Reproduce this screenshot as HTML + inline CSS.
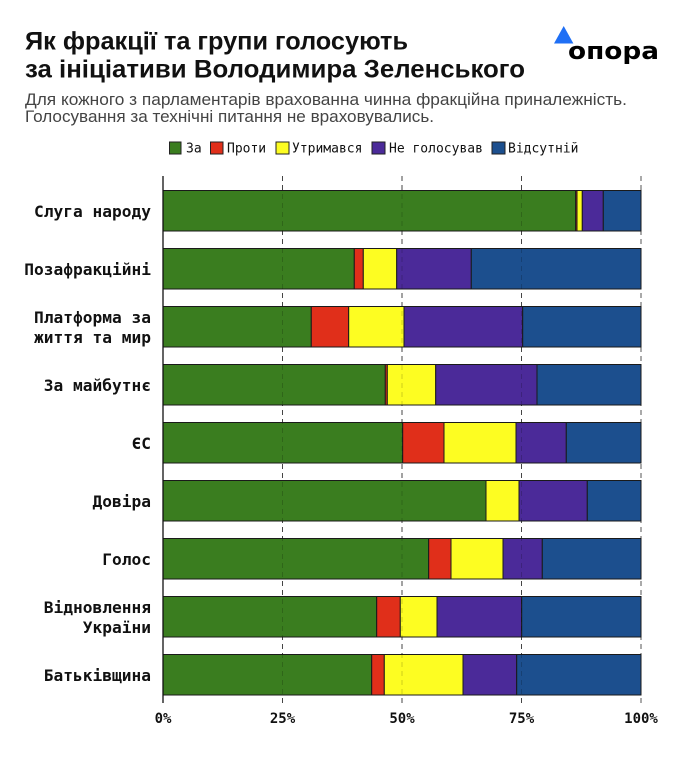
<!DOCTYPE html>
<html><head><meta charset="utf-8"><style>
html,body{margin:0;padding:0;background:#fff;}
svg{display:block;}
</style></head><body>
<svg width="690" height="759" viewBox="0 0 690 759" xmlns="http://www.w3.org/2000/svg">
<rect width="690" height="759" fill="#fff"/>
<!-- Title -->
<text x="25" y="49.3" font-family="Liberation Sans, sans-serif" font-weight="bold" font-size="25" fill="#111" textLength="383" lengthAdjust="spacingAndGlyphs">Як фракції та групи голосують</text>
<text x="25" y="77.5" font-family="Liberation Sans, sans-serif" font-weight="bold" font-size="25" fill="#111" textLength="500" lengthAdjust="spacingAndGlyphs">за ініціативи Володимира Зеленського</text>
<text x="25" y="105" font-family="Liberation Sans, sans-serif" font-size="17" fill="#444" textLength="602" lengthAdjust="spacingAndGlyphs">Для кожного з парламентарів врахованна чинна фракційна приналежність.</text>
<text x="25" y="122" font-family="Liberation Sans, sans-serif" font-size="17" fill="#444" textLength="409" lengthAdjust="spacingAndGlyphs">Голосування за технічні питання не враховувались.</text>
<!-- Logo -->
<polygon points="554,43.5 563.7,26 573.4,43.5" fill="#1f6ff5"/>
<text x="568" y="59" font-family="DejaVu Sans, sans-serif" font-weight="bold" font-size="24" fill="#000" textLength="91" lengthAdjust="spacingAndGlyphs">опора</text>
<!-- Legend -->
<g font-family="DejaVu Sans Mono, monospace" font-size="13" fill="#111" stroke-width="1">
<rect x="169.5" y="142" width="11.5" height="12" fill="#3a7d1f" stroke="#222"/>
<text x="186" y="152.5" stroke="none">За</text>
<rect x="210.5" y="142" width="12.5" height="12" fill="#e02f1a" stroke="#222"/>
<text x="227" y="152.5" stroke="none">Проти</text>
<rect x="276" y="142" width="13" height="12" fill="#fdfd22" stroke="#222"/>
<text x="292" y="152.5" stroke="none">Утримався</text>
<rect x="372" y="142" width="13" height="12" fill="#4b2a99" stroke="#222"/>
<text x="389" y="152.5" stroke="none">Не голосував</text>
<rect x="492" y="142" width="13" height="12" fill="#1c4f8e" stroke="#222"/>
<text x="508" y="152.5" stroke="none">Відсутній</text>
</g>
<!-- Gridlines (behind) -->
<g stroke="#555" stroke-width="1" stroke-dasharray="5,4">
<line x1="282.5" y1="176" x2="282.5" y2="703"/>
<line x1="402" y1="176" x2="402" y2="703"/>
<line x1="521.5" y1="176" x2="521.5" y2="703"/>
<line x1="641" y1="176" x2="641" y2="703"/>
</g>
<!-- Bars -->
<g stroke="#1a1a1a" stroke-width="1">
<rect x="163" y="190.5" width="412.7" height="40.5" fill="#3a7d1f"/>
<rect x="575.7" y="190.5" width="1.3" height="40.5" fill="#e02f1a"/>
<rect x="577" y="190.5" width="5.3" height="40.5" fill="#fdfd22"/>
<rect x="582.3" y="190.5" width="21" height="40.5" fill="#4b2a99"/>
<rect x="603.3" y="190.5" width="37.7" height="40.5" fill="#1c4f8e"/>
<rect x="163" y="248.5" width="191.3" height="40.5" fill="#3a7d1f"/>
<rect x="354.3" y="248.5" width="9" height="40.5" fill="#e02f1a"/>
<rect x="363.3" y="248.5" width="33.4" height="40.5" fill="#fdfd22"/>
<rect x="396.7" y="248.5" width="74.6" height="40.5" fill="#4b2a99"/>
<rect x="471.3" y="248.5" width="169.7" height="40.5" fill="#1c4f8e"/>
<rect x="163" y="306.5" width="148.3" height="40.5" fill="#3a7d1f"/>
<rect x="311.3" y="306.5" width="37.4" height="40.5" fill="#e02f1a"/>
<rect x="348.7" y="306.5" width="55.3" height="40.5" fill="#fdfd22"/>
<rect x="404" y="306.5" width="118.7" height="40.5" fill="#4b2a99"/>
<rect x="522.7" y="306.5" width="118.3" height="40.5" fill="#1c4f8e"/>
<rect x="163" y="364.5" width="222.3" height="40.5" fill="#3a7d1f"/>
<rect x="385.3" y="364.5" width="2" height="40.5" fill="#e02f1a"/>
<rect x="387.3" y="364.5" width="48.4" height="40.5" fill="#fdfd22"/>
<rect x="435.7" y="364.5" width="101.3" height="40.5" fill="#4b2a99"/>
<rect x="537" y="364.5" width="104" height="40.5" fill="#1c4f8e"/>
<rect x="163" y="422.5" width="239.7" height="40.5" fill="#3a7d1f"/>
<rect x="402.7" y="422.5" width="41.3" height="40.5" fill="#e02f1a"/>
<rect x="444" y="422.5" width="72" height="40.5" fill="#fdfd22"/>
<rect x="516" y="422.5" width="50.3" height="40.5" fill="#4b2a99"/>
<rect x="566.3" y="422.5" width="74.7" height="40.5" fill="#1c4f8e"/>
<rect x="163" y="480.5" width="323" height="40.5" fill="#3a7d1f"/>
<rect x="486" y="480.5" width="33" height="40.5" fill="#fdfd22"/>
<rect x="519" y="480.5" width="68.3" height="40.5" fill="#4b2a99"/>
<rect x="587.3" y="480.5" width="53.7" height="40.5" fill="#1c4f8e"/>
<rect x="163" y="538.5" width="265.7" height="40.5" fill="#3a7d1f"/>
<rect x="428.7" y="538.5" width="22.3" height="40.5" fill="#e02f1a"/>
<rect x="451" y="538.5" width="52" height="40.5" fill="#fdfd22"/>
<rect x="503" y="538.5" width="39.3" height="40.5" fill="#4b2a99"/>
<rect x="542.3" y="538.5" width="98.7" height="40.5" fill="#1c4f8e"/>
<rect x="163" y="596.5" width="213.7" height="40.5" fill="#3a7d1f"/>
<rect x="376.7" y="596.5" width="23.6" height="40.5" fill="#e02f1a"/>
<rect x="400.3" y="596.5" width="36.7" height="40.5" fill="#fdfd22"/>
<rect x="437" y="596.5" width="84.7" height="40.5" fill="#4b2a99"/>
<rect x="521.7" y="596.5" width="119.3" height="40.5" fill="#1c4f8e"/>
<rect x="163" y="654.5" width="208.7" height="40.5" fill="#3a7d1f"/>
<rect x="371.7" y="654.5" width="12.6" height="40.5" fill="#e02f1a"/>
<rect x="384.3" y="654.5" width="78.7" height="40.5" fill="#fdfd22"/>
<rect x="463" y="654.5" width="53.7" height="40.5" fill="#4b2a99"/>
<rect x="516.7" y="654.5" width="124.3" height="40.5" fill="#1c4f8e"/>
</g>
<!-- Gridlines faint on top -->
<g stroke="#000" stroke-width="1" stroke-dasharray="5,4" opacity="0.18">
<line x1="282.5" y1="176" x2="282.5" y2="703"/>
<line x1="402" y1="176" x2="402" y2="703"/>
<line x1="521.5" y1="176" x2="521.5" y2="703"/>
</g>
<!-- Left spine -->
<line x1="163" y1="176" x2="163" y2="703" stroke="#111" stroke-width="1.3"/>
<!-- Y labels -->
<g font-family="DejaVu Sans Mono, monospace" font-weight="bold" font-size="16.2" fill="#111" text-anchor="end">
<text x="151" y="216.8">Слуга народу</text>
<text x="151" y="274.8">Позафракційні</text>
<text x="151" y="322.8">Платформа за</text>
<text x="151" y="342.8">життя та мир</text>
<text x="151" y="390.8">За майбутнє</text>
<text x="151" y="448.8">ЄС</text>
<text x="151" y="506.8">Довіра</text>
<text x="151" y="564.8">Голос</text>
<text x="151" y="612.8">Відновлення</text>
<text x="151" y="632.8">України</text>
<text x="151" y="680.8">Батьківщина</text>
</g>
<!-- X ticks -->
<g font-family="DejaVu Sans Mono, monospace" font-weight="bold" font-size="14" fill="#111" text-anchor="middle">
<text x="163" y="723">0%</text>
<text x="282.5" y="723">25%</text>
<text x="402" y="723">50%</text>
<text x="521.5" y="723">75%</text>
<text x="641" y="723">100%</text>
</g>
</svg>
</body></html>
